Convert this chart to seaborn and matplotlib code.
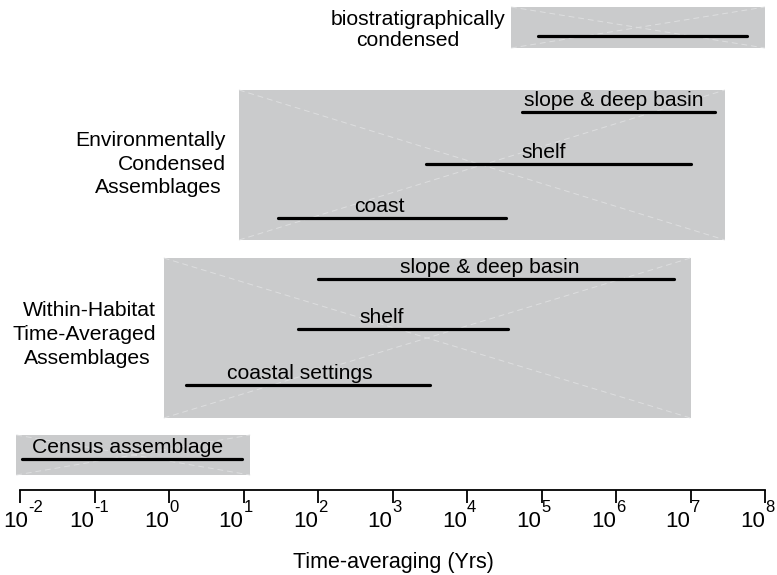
import numpy as np
import pandas as pd
import matplotlib
matplotlib.use("Agg")
import matplotlib.pyplot as plt
import seaborn as sns
from matplotlib.patches import Rectangle
from matplotlib.transforms import offset_copy
from matplotlib.ticker import FixedLocator, NullLocator, NullFormatter

# ---------------- data ----------------
box_names = ["Census", "Within-Habitat", "Environmentally Condensed", "Biostratigraphic"]
box_start = [0.0089, 0.85, 8.7, 3.9e4]
box_end = [12.3, 1.0e7, 2.9e7, 1.0e8]

group_lines = [
    [],
    ["Within-Habitat", "Time-Averaged", "Assemblages"],
    ["Environmentally", "Condensed", "Assemblages"],
    ["biostratigraphically", "condensed"],
]

seg_labels = ["Census assemblage", "coastal settings", "shelf", "slope & deep basin",
              "coast", "shelf", "slope & deep basin", ""]
seg_start = [0.0107, 1.7, 54, 100, 29, 2800, 5.5e4, 8.9e4]
seg_end = [9.5, 3200, 3.5e4, 6.0e6, 3.3e4, 1.0e7, 2.1e7, 5.8e7]

tick_exponents = list(range(-2, 9))
xlabel = "Time-averaging (Yrs)"

# ---------------- layout (pixels from top-left) ----------------
W, H = 777, 575
box_top = [435, 258, 90, 7]
box_bottom = [475, 418, 240, 48]
seg_y = [459, 385, 329, 279, 218, 164, 112, 36]
seg_label_x = [0.28, 57.5, 708, 2.0e4, 676, 1.07e5, 9.3e5, None]
# per line: (x px, baseline px, ha)
group_line_pos = [
    [],
    [(156, 316, "right"), (156, 340, "right"), (151, 364, "right")],
    [(226, 146.5, "right"), (226, 169.5, "right"), (222, 193, "right")],
    [(418, 25, "center"), (408, 46.5, "center")],
]
tick_shift_px = [8] + [0] * 10
FS = 15.2

sns.set_theme(style="white")
plt.rcParams["font.family"] = ["Liberation Sans", "DejaVu Sans"]

fig = plt.figure(figsize=(W / 100, H / 100), dpi=100)
ax = fig.add_axes([20 / W, (H - 490) / H, 745 / W, 490 / H])
ax.set_xscale("log")
ax.set_xlim(1e-2, 1e8)
ax.set_ylim(490, 0)

# gray boxes with faint dashed diagonals
for s, e, t, b in zip(box_start, box_end, box_top, box_bottom):
    ax.add_patch(Rectangle((s, t), e - s, b - t, facecolor="#cacbcc",
                           edgecolor="none", clip_on=False, zorder=1))
    for (x0, y0, x1, y1) in [(s, t, e, b), (s, b, e, t)]:
        ax.plot([x0, x1], [y0, y1], color="#dddedf", lw=0.7,
                ls=(0, (6, 4)), clip_on=False, zorder=1.5)

# black segments via seaborn
rows = []
for i, (s, e, y) in enumerate(zip(seg_start, seg_end, seg_y)):
    rows.append({"id": i, "x": s, "y": y})
    rows.append({"id": i, "x": e, "y": y})
df = pd.DataFrame(rows)
sns.lineplot(data=df, x="x", y="y", units="id", estimator=None, color="black",
             lw=2.3, ax=ax, legend=False, zorder=3)
for line in ax.lines:
    line.set_clip_on(False)
ax.set_xscale("log")
ax.set_xlim(1e-2, 1e8)
ax.set_ylim(490, 0)
ax.set_xlabel("")
ax.set_ylabel("")

for lab, lx, y in zip(seg_labels, seg_label_x, seg_y):
    if lab:
        ax.text(lx, y - 6, lab, ha="center", va="baseline", fontsize=FS,
                color="black", zorder=4)

for lines, poss in zip(group_lines, group_line_pos):
    for txt, (px, py, ha) in zip(lines, poss):
        fig.text(px / W, 1 - py / H, txt, ha=ha, va="baseline",
                 fontsize=FS, color="black")

# axis styling
for sp in ["left", "right", "top"]:
    ax.spines[sp].set_visible(False)
ax.spines["bottom"].set_color("black")
ax.spines["bottom"].set_linewidth(1.3)
ax.yaxis.set_visible(False)
ax.xaxis.set_major_locator(FixedLocator([10.0 ** k for k in tick_exponents]))
ax.xaxis.set_minor_locator(NullLocator())
ax.xaxis.set_major_formatter(NullFormatter())
ax.tick_params(axis="x", which="major", direction="out", length=9, width=1.3,
               color="black", bottom=True)

# tick labels: "10" with raised exponent
for k, sh in zip(tick_exponents, tick_shift_px):
    tb = offset_copy(ax.transData, fig=fig, x=sh, y=0, units="dots")
    ax.text(10.0 ** k, 527, "10", ha="right", va="baseline", fontsize=16,
            color="black", transform=tb, clip_on=False)
    ax.text(10.0 ** k, 512, "%d" % k, ha="left", va="baseline", fontsize=12,
            color="black", transform=tb, clip_on=False)

fig.text(393 / W, 1 - 568 / H, xlabel, ha="center", va="baseline",
         fontsize=15.5, color="black")
ax.patch.set_alpha(0)

fig.savefig("out.png", dpi=100)
